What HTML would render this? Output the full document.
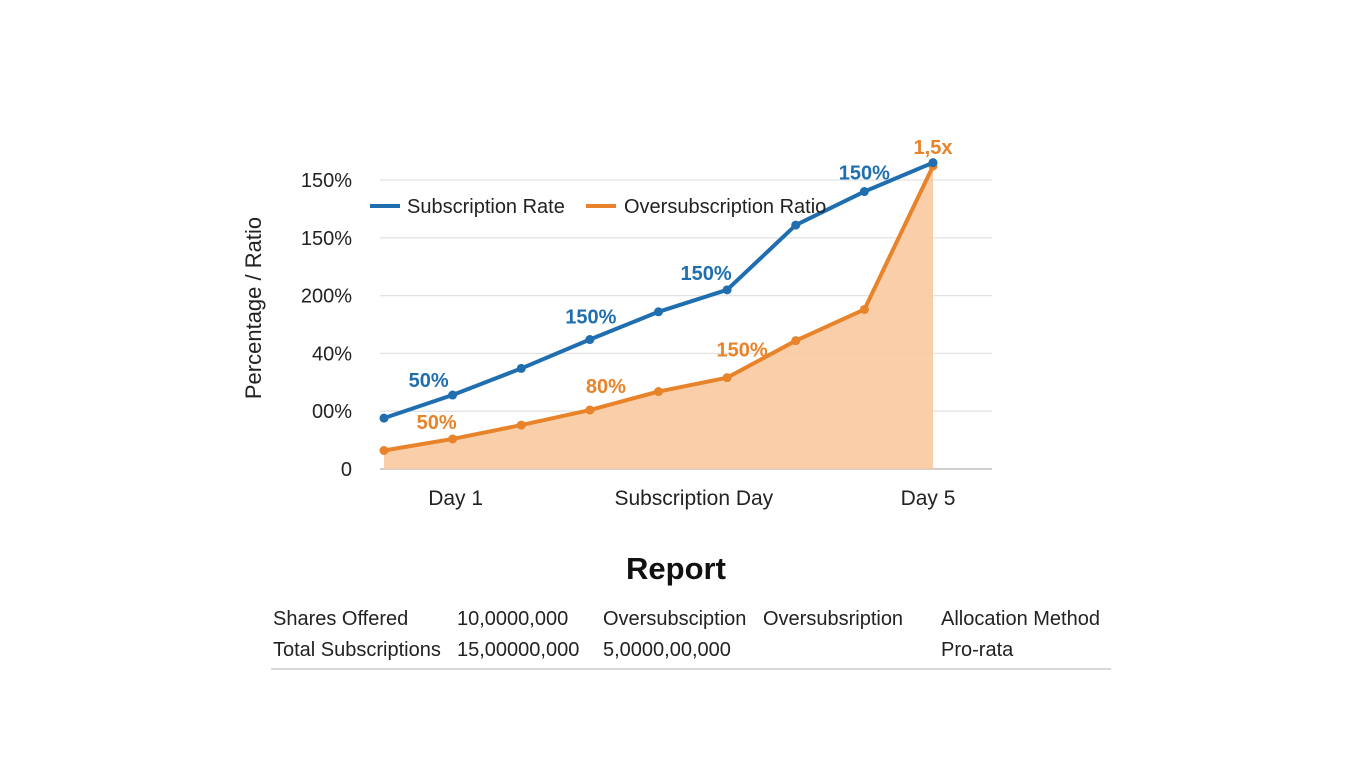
<!DOCTYPE html>
<html><head><meta charset="utf-8"><style>
body{margin:0;width:1365px;height:768px;background:#fff;font-family:"Liberation Sans",sans-serif;overflow:hidden}
svg{position:absolute;left:0;top:0}
text{font-family:"Liberation Sans",sans-serif}
</style></head><body>
<svg id="c" width="1365" height="768"></svg>
<script>
const days=[1,2,3,4,5,6,7,8,9];
const subscriptionRate=[44,64,87,112,136,155,211,240,265];
const oversubscriptionRatio=[16,26,38,51,67,79,111,138,262];
const yTickLabels=["0","00%","40%","200%","150%","150%"];
const yTickValues=[0,50,100,150,200,250];
const blueLabels=[[2,"50%"],[4,"150%"],[6,"150%"],[8,"150%"]];
const orangeLabels=[[2,"50%"],[4,"80%"],[6,"150%"],[9,"1,5x"]];
const xLabels=[["Day 1",2],["Subscription Day",5.5],["Day 5",9]];
const blueOff=[[-24,-8],[1,-16],[-21,-10],[0,-12]];
const orangeOff=[[-16,-10],[16,-17],[15,-21],[0,-12]];
const xLabOff=[3,1,-5];
const NS="http://www.w3.org/2000/svg",svg=document.getElementById('c');
const X=d=>384+(d-1)*(933-384)/8, Y=v=>469-v*(289/250);
function el(t,a,txt){const e=document.createElementNS(NS,t);for(const k in a)e.setAttribute(k,a[k]);if(txt!=null)e.textContent=txt;svg.appendChild(e);return e;}
yTickValues.forEach((v,i)=>{
 const g=el('line',{x1:380,x2:992,y1:Y(v),y2:Y(v),stroke:i?'#e3e3e3':'#cfcfcf','stroke-width':i?1.3:2});
 
 const t=el('text',{x:352,y:Y(v)+7,'text-anchor':'end','font-size':20,fill:'#222'},yTickLabels[i]);
 
});
const yt=el('text',{x:261,y:308,'text-anchor':'middle','font-size':22,fill:'#222',transform:'rotate(-90 261 308)'},'Percentage / Ratio');

let area='M'+X(days[0])+','+Y(0);days.forEach((d,i)=>area+=' L'+X(d)+','+Y(oversubscriptionRatio[i]));area+=' L'+X(days[days.length-1])+','+Y(0)+'Z';
const a=el('path',{d:area,fill:'#f8c9a0','fill-opacity':0.9});
function series(vals,col,name){
 const p=el('polyline',{points:days.map((d,i)=>X(d)+','+Y(vals[i])).join(' '),fill:'none',stroke:col,'stroke-width':4,'stroke-linejoin':'round'});
 
 days.forEach((d,i)=>{const c=el('circle',{cx:X(d),cy:Y(vals[i]),r:4.5,fill:col});});
}
series(oversubscriptionRatio,'#e8832a','oversubscription-ratio');
series(subscriptionRate,'#1f6fb0','subscription-rate');
blueLabels.forEach(([d,s],i)=>{const t=el('text',{x:X(d)+blueOff[i][0],y:Y(subscriptionRate[d-1])+blueOff[i][1],'text-anchor':'middle','font-size':20,'font-weight':'bold',fill:'#1f6fb0'},s);});
orangeLabels.forEach(([d,s],i)=>{const t=el('text',{x:X(d)+orangeOff[i][0],y:Y(oversubscriptionRatio[d-1])+orangeOff[i][1],'text-anchor':'middle','font-size':20,'font-weight':'bold',fill:'#e8832a'},s);});
xLabels.forEach(([s,d],i)=>{const t=el('text',{x:X(d)+xLabOff[i],y:505,'text-anchor':'middle','font-size':21,fill:'#222'},s);});
[[370,407,'#1f6fb0','Subscription Rate'],[586,624,'#e8832a','Oversubscription Ratio']].forEach(([x,tx,c,s])=>{
 const l=el('line',{x1:x,x2:x+30,y1:206,y2:206,stroke:c,'stroke-width':4});
 const t=el('text',{x:tx,y:213,'font-size':20,fill:'#222'},s);
});
const rt=el('text',{x:676,y:579,'text-anchor':'middle','font-size':31,'font-weight':'bold',fill:'#111'},'Report');

const cells=[[273,625,'Shares Offered'],[457,625,'10,0000,000'],[603,625,'Oversubsciption'],[763,625,'Oversubsription'],[941,625,'Allocation Method'],
[273,656,'Total Subscriptions'],[457,656,'15,00000,000'],[603,656,'5,0000,00,000'],[941,656,'Pro-rata']];
cells.forEach(([x,y,s])=>{const t=el('text',{x:x,y:y,'font-size':20,fill:'#222'},s);});
const hl=el('line',{x1:271,x2:1111,y1:669,y2:669,stroke:'#d8d8d8','stroke-width':2});
</script></body></html>
